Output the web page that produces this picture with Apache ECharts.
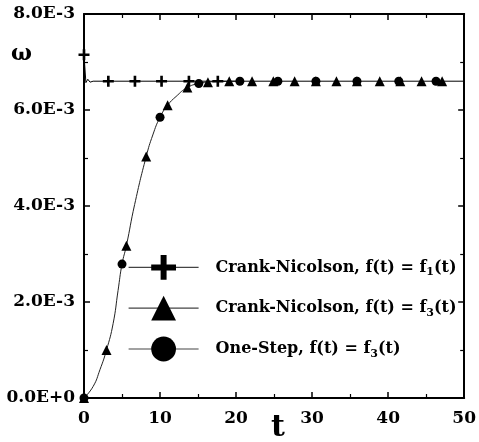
<!DOCTYPE html>
<html><head><meta charset="utf-8">
<script src="https://cdn.jsdelivr.net/npm/echarts@6/dist/echarts.min.js"></script>
<style>html,body{margin:0;padding:0;background:#fff}#c{width:479px;height:442px}</style>
</head><body><div id="c"></div>
<script>
// ---- data ----
const seriesNames = ['Crank-Nicolson, f(t) = {s|f}{sub|1}{s|(t)}', 'Crank-Nicolson, f(t) = {s|f}{sub|3}{s|(t)}', 'One-Step, f(t) = {s|f}{sub|3}{s|(t)}'];
const xTicks = [0, 10, 20, 30, 40, 50];
const yTickLabels = ['0.0E+0', '2.0E-3', '4.0E-3', '6.0E-3', '8.0E-3'];

// CN f1: full line, and where markers are drawn
const cnF1LineT = [0, 0.25, 0.5, 0.8, 1.2, 50];
const cnF1LineW = [7.15e-3, 6.57e-3, 6.64e-3, 6.58e-3, 6.60e-3, 6.60e-3];
const cnF1MarkT = [0, 3.2, 6.7, 10.2, 13.8, 17.6];
const cnF1MarkW = [7.15e-3, 6.60e-3, 6.60e-3, 6.60e-3, 6.60e-3, 6.60e-3];

// CN f3 (triangles)
const cnF3T = [0, 2.96, 5.57, 8.18, 11.0, 13.6, 16.3, 19.1, 22.1, 24.9, 27.7, 30.5, 33.2, 35.9, 38.9, 41.6, 44.4, 47.1];
const cnF3W = [0, 1.00e-3, 3.17e-3, 5.03e-3, 6.10e-3, 6.47e-3, 6.58e-3, 6.60e-3, 6.60e-3, 6.60e-3, 6.60e-3, 6.60e-3, 6.60e-3, 6.60e-3, 6.60e-3, 6.60e-3, 6.60e-3, 6.60e-3];

// One-Step f3 (circles)
const osF3T = [0, 5.0, 10.0, 15.1, 20.5, 25.5, 30.5, 35.9, 41.4, 46.3];
const osF3W = [0, 2.79e-3, 5.85e-3, 6.55e-3, 6.60e-3, 6.60e-3, 6.60e-3, 6.60e-3, 6.60e-3, 6.60e-3];

// the thin solution curve traced through the f3 markers
const curveT = [0, 1.2, 2.1, 2.96, 3.83, 4.48, 5.0, 5.57, 6.66, 8.18, 9.05, 10.0, 11.0, 12.1, 13.6, 15.1, 17.0, 20.0];
const curveW = [0, 0.24e-3, 0.59e-3, 1.00e-3, 1.55e-3, 2.24e-3, 2.79e-3, 3.17e-3, 4.03e-3, 5.03e-3, 5.48e-3, 5.85e-3, 6.10e-3, 6.28e-3, 6.47e-3, 6.55e-3, 6.59e-3, 6.60e-3];

// ---- build ----
const FONT = 'DejaVu Serif';
const plusPath = 'path://M3.8,0H6.2V3.8H10V6.2H6.2V10H3.8V6.2H0V3.8H3.8Z';

const markSet = new Set(cnF1MarkT.map((t, i) => t + '|' + cnF1MarkW[i]));
const f1Points = [];
cnF1LineT.forEach((t, i) => f1Points.push([t, cnF1LineW[i]]));
cnF1MarkT.forEach((t, i) => f1Points.push([t, cnF1MarkW[i]]));
f1Points.sort((a, b) => a[0] - b[0]);
const f1Data = [];
const seen = new Set();
f1Points.forEach(p => {
  const k = p[0] + '|' + p[1];
  if (seen.has(k)) return; seen.add(k);
  if (markSet.has(k)) f1Data.push({value: p});
  else f1Data.push({value: p, symbol: 'none'});
});

const zip = (a, b) => a.map((v, i) => [v, b[i]]);

const chart = echarts.init(document.getElementById('c'), null, {renderer: 'canvas'});
const axisCommon = () => ({
  axisLine: {show: true, onZero: false, lineStyle: {color: '#000', width: 2}},
  axisTick: {show: true, inside: true, length: 6, lineStyle: {color: '#000', width: 1.5}},
  minorTick: {show: true, splitNumber: 2, length: 4, lineStyle: {color: '#000', width: 1.2}},
  splitLine: {show: false}
});
chart.setOption({
  animation: false,
  backgroundColor: '#fff',
  grid: {left: 84, right: 11, top: 14, bottom: 44},
  legend: {
    orient: 'vertical', left: 128, top: 255, padding: 0,
    itemWidth: 70, itemHeight: 31, itemGap: 16,
    data: seriesNames,
    lineStyle: {color: '#444', width: 1.2, opacity: 1},
    textStyle: {
      fontFamily: FONT, fontWeight: 'bold', fontSize: 16, color: '#000', padding: [0, 0, 0, 12],
      rich: {
        s: {fontFamily: FONT, fontWeight: 'bold', fontSize: 16, color: '#000'},
        sub: {fontFamily: FONT, fontWeight: 'bold', fontSize: 11, color: '#000', verticalAlign: 'bottom', padding: [10, 0, 0, 0]}
      }
    }
  },
  xAxis: [
    Object.assign({type: 'value', min: 0, max: 50, interval: 10, position: 'bottom',
      axisLabel: {fontFamily: FONT, fontWeight: 'bold', fontSize: 17, color: '#000', margin: 12,
        formatter: v => String(xTicks[Math.round(v / 10)])}}, axisCommon()),
    Object.assign({type: 'value', min: 0, max: 50, interval: 10, position: 'top',
      axisLabel: {show: false}}, axisCommon())
  ],
  yAxis: [
    Object.assign({type: 'value', min: 0, max: 0.008, interval: 0.002, position: 'left',
      axisLabel: {fontFamily: FONT, fontWeight: 'bold', fontSize: 17, color: '#000', margin: 9,
        formatter: v => yTickLabels[Math.round(v / 0.002)]}}, axisCommon()),
    Object.assign({type: 'value', min: 0, max: 0.008, interval: 0.002, position: 'right',
      axisLabel: {show: false}}, axisCommon())
  ],
  graphic: [
    {type: 'text', left: 11, top: 43, style: {text: 'ω', fontFamily: FONT, fontWeight: 'bold', fontSize: 22, fill: '#000'}},
    {type: 'text', left: 271, top: 413, style: {text: 't', fontFamily: FONT, fontWeight: 'bold', fontSize: 30, fill: '#000'}}
  ],
  series: [
    {
      name: 'curve', type: 'line', data: zip(curveT, curveW),
      symbol: 'none', smooth: 0.5,
      lineStyle: {color: '#222', width: 1}, z: 2, legendHoverLink: false
    },
    {
      name: seriesNames[0], type: 'line', data: f1Data,
      symbol: plusPath, symbolSize: 11, showAllSymbol: true,
      itemStyle: {color: '#000'}, lineStyle: {color: '#000', width: 1}, z: 3
    },
    {
      name: seriesNames[1], type: 'line', data: zip(cnF3T, cnF3W),
      symbol: 'triangle', symbolSize: 10, showAllSymbol: true,
      itemStyle: {color: '#000'}, lineStyle: {color: '#000', width: 1, opacity: 0}, z: 4
    },
    {
      name: seriesNames[2], type: 'line', data: zip(osF3T, osF3W),
      symbol: 'circle', symbolSize: 9, showAllSymbol: true,
      itemStyle: {color: '#000'}, lineStyle: {color: '#000', width: 1, opacity: 0}, z: 5
    }
  ]
});
</script></body></html>
